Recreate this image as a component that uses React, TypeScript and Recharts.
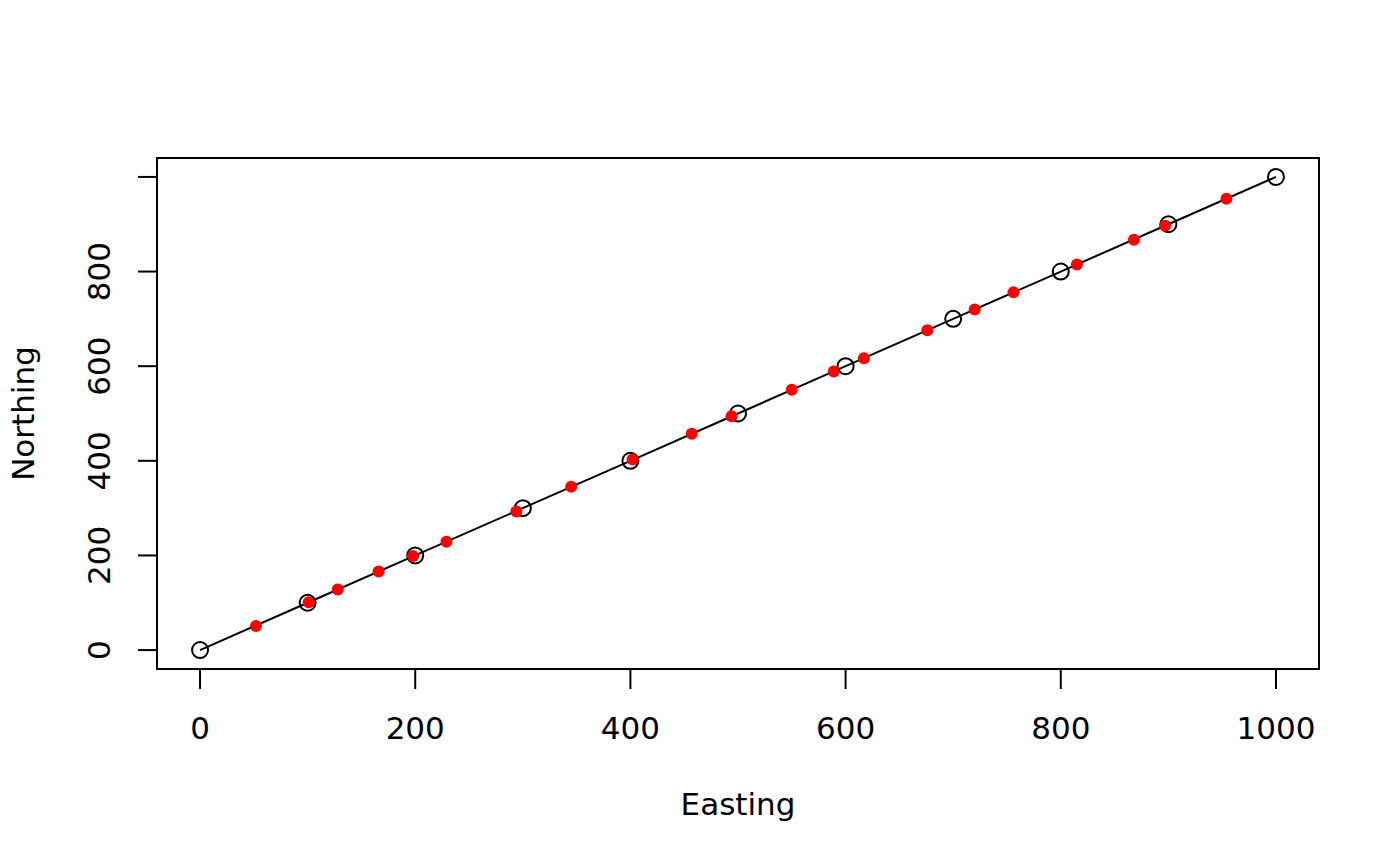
import { ScatterChart, Scatter, XAxis, YAxis, ReferenceArea } from 'recharts';

// survey line vertices (open circles, joined by a line)
const lineEasting = [0, 100, 200, 300, 400, 500, 600, 700, 800, 900, 1000];
const lineNorthing = [0, 100, 200, 300, 400, 500, 600, 700, 800, 900, 1000];

// sampled points along the line (red dots)
const sampleEasting = [
  52, 101, 128, 166, 198, 229, 294, 345, 402, 457, 494, 550, 589, 617, 676, 720, 756, 815, 868, 897, 954,
];
const sampleNorthing = [
  51, 101, 128, 166, 199, 229, 293, 345, 403, 457, 494, 550, 589, 617, 676, 720, 756, 815, 867, 897, 954,
];

const xTicks = [0, 200, 400, 600, 800, 1000];
const yTicks = [0, 200, 400, 600, 800, 1000];
const yLabelled = [0, 200, 400, 600, 800];

const FONT = '"DejaVu Sans", sans-serif';
const FS = 31;

const lineData = lineEasting.map((x, i) => ({ x, y: lineNorthing[i] }));
const sampleData = sampleEasting.map((x, i) => ({ x, y: sampleNorthing[i] }));

function XTick({ x, y, payload }: any) {
  return (
    <text x={x} y={y + 50} textAnchor="middle" fontFamily={FONT} fontSize={FS} fill="#000">
      {payload.value}
    </text>
  );
}

function YTick({ x, y, payload }: any) {
  if (!yLabelled.includes(payload.value)) return <g />;
  const tx = x - 28;
  return (
    <text
      x={tx}
      y={y}
      transform={`rotate(-90, ${tx}, ${y})`}
      textAnchor="middle"
      fontFamily={FONT}
      fontSize={FS}
      fill="#000"
    >
      {payload.value}
    </text>
  );
}

function OpenCircle({ cx, cy }: any) {
  return <circle cx={cx} cy={cy} r={8} fill="none" stroke="#000" strokeWidth={2} />;
}

function RedDot({ cx, cy }: any) {
  return <circle cx={cx} cy={cy} r={6} fill="#ff0000" stroke="none" />;
}

export default function App() {
  return (
    <div style={{ position: 'absolute', left: 0, top: 0, width: 1400, height: 866, background: '#fff' }}>
      <ScatterChart width={1400} height={866} margin={{ top: 158, right: 81, bottom: 0, left: 0 }}>
        <XAxis
          type="number"
          dataKey="x"
          domain={[-40, 1040]}
          allowDataOverflow
          ticks={xTicks}
          interval={0}
          height={197}
          axisLine={false}
          tickSize={20}
          tickMargin={0}
          tickLine={{ stroke: '#000', strokeWidth: 2 }}
          tick={<XTick />}
          label={(p: any) => {
            const vb = p.viewBox;
            return (
              <text
                x={vb.x + vb.width / 2}
                y={815}
                textAnchor="middle"
                fontFamily={FONT}
                fontSize={FS}
                fill="#000"
              >
                Easting
              </text>
            );
          }}
        />
        <YAxis
          type="number"
          dataKey="y"
          domain={[-40, 1040]}
          allowDataOverflow
          ticks={yTicks}
          interval={0}
          width={157}
          axisLine={false}
          tickSize={19}
          tickMargin={0}
          tickLine={{ stroke: '#000', strokeWidth: 2 }}
          tick={<YTick />}
          label={(p: any) => {
            const vb = p.viewBox;
            const cy = vb.y + vb.height / 2;
            return (
              <text
                x={34}
                y={cy}
                transform={`rotate(-90, 34, ${cy})`}
                textAnchor="middle"
                fontFamily={FONT}
                fontSize={FS}
                fill="#000"
              >
                Northing
              </text>
            );
          }}
        />
        <ReferenceArea
          x1={-40}
          x2={1040}
          y1={-40}
          y2={1040}
          fill="none"
          fillOpacity={0}
          stroke="#000"
          strokeWidth={2}
          ifOverflow="visible"
        />
        <Scatter
          data={lineData}
          line={{ stroke: '#000', strokeWidth: 2 }}
          shape={<OpenCircle />}
          isAnimationActive={false}
        />
        <Scatter data={sampleData} shape={<RedDot />} isAnimationActive={false} />
      </ScatterChart>
    </div>
  );
}
